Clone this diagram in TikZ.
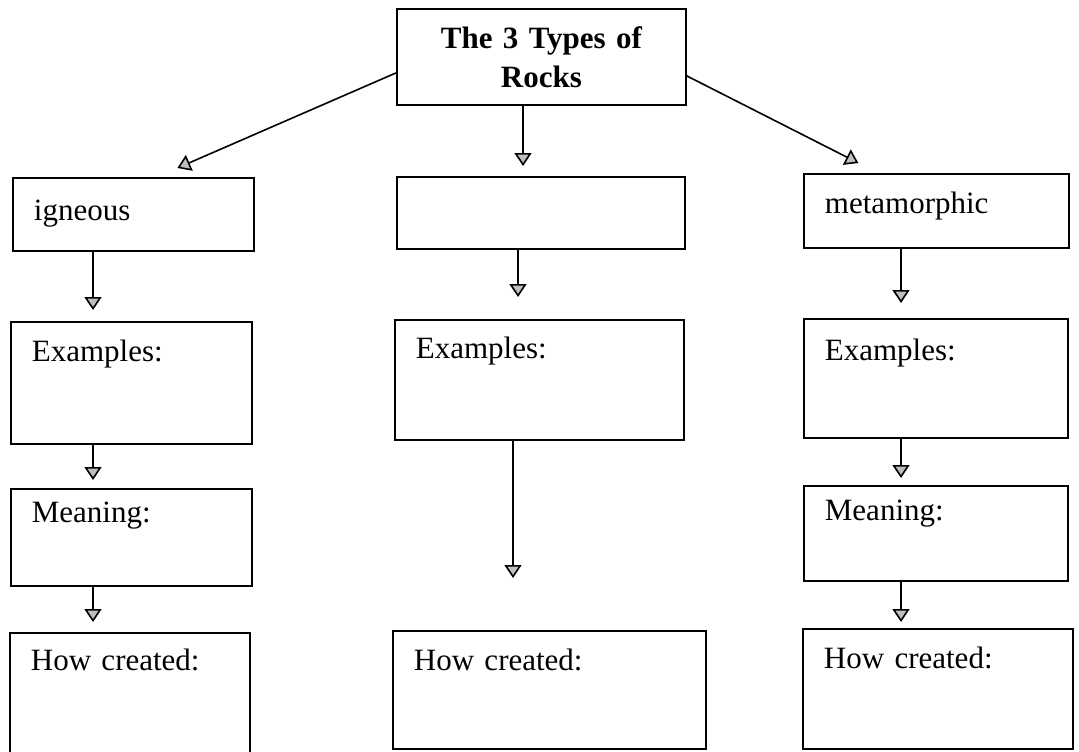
\documentclass[tikz,border=0pt]{standalone}
\usepackage{fontspec}
\setmainfont{Liberation Serif}
\usetikzlibrary{arrows.meta}
\newcommand\rockfont{\fontsize{15.5pt}{19.5pt}\selectfont}
\tikzset{
  rockbox/.style={draw, line width=0.9pt, rectangle, anchor=north west, align=left,
    inner xsep=10.5pt, inner ysep=0pt, font=\rockfont},
  flow/.style={line width=0.8pt, -{Triangle[length=6.5pt,width=8.5pt,fill=gray!50]}},
}
\begin{document}
\begin{tikzpicture}[x=0.5pt,y=-0.5pt]
\clip (0,0) rectangle (1079,751);

\node (top) at (396,8) [rockbox, align=center, text width=123.5pt, minimum height=48pt,
  font=\rockfont\bfseries] {The 3 Types of\\Rocks};

% left column
\node (ign) at (12,177) [rockbox, text width=99.5pt, text height=21.5pt, text depth=15pt] {igneous};
\node (lex) at (10,321) [rockbox, text width=99.5pt, text height=20pt, text depth=41pt] {Examples:};
\node (lmean) at (10,488) [rockbox, text width=99.5pt, text height=17pt, text depth=31.5pt] {Meaning:};
\node (lhow) at (9,632) [rockbox, text width=99pt, text height=19pt, text depth=46pt] {How created:};

% middle column
\node (mid) at (396,176) [rockbox, text width=123pt, text height=18pt, text depth=18pt] {};
\node (mex) at (394,319) [rockbox, text width=123.5pt, text height=19.5pt, text depth=40.5pt] {Examples:};
\node (mhow) at (392,630) [rockbox, text width=135.5pt, text height=20pt, text depth=39pt] {How created:};

% right column
\node (met) at (803,173) [rockbox, text width=111.5pt, text height=20pt, text depth=17pt] {metamorphic};
\node (rex) at (803,318) [rockbox, text width=111pt, text height=21pt, text depth=38.5pt] {Examples:};
\node (rmean) at (803,485) [rockbox, text width=111pt, text height=17.5pt, text depth=30pt] {Meaning:};
\node (rhow) at (802,628) [rockbox, text width=114pt, text height=20pt, text depth=40pt] {How created:};

\coordinate (xl) at (93,0);
\coordinate (xm1) at (523,0);
\coordinate (xm2) at (518,0);
\coordinate (xm3) at (513,0);
\coordinate (xr) at (901,0);

\draw[flow] ([yshift=-8pt]top.west) -- ([xshift=22pt,yshift=4.5pt]ign.north);
\draw[flow] ([yshift=-9.5pt]top.east) -- ([xshift=-39pt,yshift=5pt]met.north);

\draw[flow, shorten >=5.5pt] (ign.south -| xl) -- (lex.north -| xl);
\draw[flow, shorten >=4pt] (lex.south -| xl) -- (lmean.north -| xl);
\draw[flow, shorten >=5pt] (lmean.south -| xl) -- (lhow.north -| xl);

\draw[flow, shorten >=5pt] (top.south -| xm1) -- (mid.north -| xm1);
\draw[flow, shorten >=11pt] (mid.south -| xm2) -- (mex.north -| xm2);
\draw[flow, shorten >=26pt] (mex.south -| xm3) -- (mhow.north -| xm3);

\draw[flow, shorten >=7.5pt] (met.south -| xr) -- (rex.north -| xr);
\draw[flow, shorten >=3.5pt] (rex.south -| xr) -- (rmean.north -| xr);
\draw[flow, shorten >=3pt] (rmean.south -| xr) -- (rhow.north -| xr);
\end{tikzpicture}
\end{document}
